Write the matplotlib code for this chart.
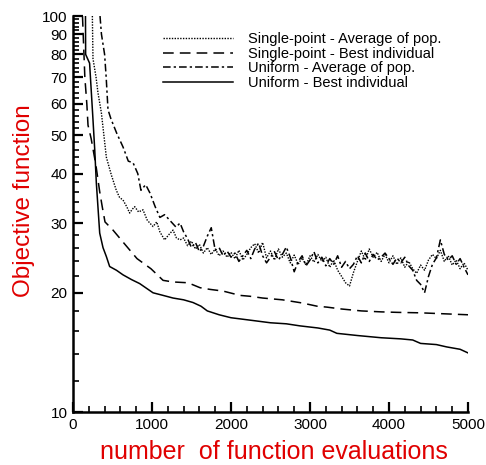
import numpy as np
import matplotlib
matplotlib.use('Agg')
import matplotlib.pyplot as plt
from matplotlib.ticker import NullFormatter

plt.rcParams['font.family'] = ['Liberation Sans', 'DejaVu Sans']

# Uniform - best individual
ub_x = [158, 160, 210, 250, 275, 295, 338, 380, 422, 464, 550, 633, 740, 844, 1013, 1140,
        1266, 1400, 1519, 1620, 1700, 1850, 2000, 2100, 2300, 2500, 2700, 2873, 3100, 3250,
        3340, 3600, 3900, 4150, 4300, 4400, 4600, 4730, 4900, 5000]
ub_y = [100, 80, 76, 56, 46, 38, 28.3, 26.0, 24.7, 23.3, 22.8, 22.2, 21.6, 21.1, 20.0, 19.7,
        19.4, 19.2, 18.9, 18.5, 18.0, 17.6, 17.3, 17.2, 17.0, 16.8, 16.7, 16.5, 16.3, 16.1,
        15.8, 15.6, 15.4, 15.3, 15.2, 14.9, 14.8, 14.6, 14.4, 14.1]

# Single-point - best individual
sb_x = [120, 150, 175, 190, 230, 290, 338, 370, 405, 506, 658, 810, 987, 1140, 1266, 1456,
        1608, 1734, 1900, 2114, 2240, 2400, 2650, 2900, 3089, 3215, 3400, 3650, 3900, 4100,
        4400, 4700, 5000]
sb_y = [100, 70, 60, 53, 49, 42, 36, 33, 30.2, 28.8, 26.5, 24.4, 23.0, 21.5, 21.3, 21.2,
        20.6, 20.4, 20.2, 19.7, 19.6, 19.4, 19.2, 18.85, 18.5, 18.4, 18.2, 18.0, 17.9, 17.85,
        17.8, 17.7, 17.6]

# Single-point - average of population
sa_x = [245, 253, 292, 316, 359, 422, 485, 548, 590, 633, 680, 717, 750, 781, 830, 886, 940,
        1013, 1060, 1100, 1160, 1210, 1266, 1310, 1355,
        1400, 1450, 1500, 1550, 1600, 1650, 1700, 1750, 1800, 1850, 1900, 1950, 2000, 2050,
        2100, 2150, 2200, 2250, 2300, 2350, 2400, 2450, 2500, 2550, 2600, 2650, 2700, 2750,
        2800, 2850, 2900, 2950, 3000, 3050, 3100, 3150, 3200, 3250, 3300, 3350, 3400, 3450,
        3500, 3550, 3600, 3650, 3700, 3750, 3800, 3850, 3900, 3950, 4000, 4050, 4100, 4150,
        4200, 4250, 4300, 4350, 4400, 4450, 4500, 4550, 4600, 4650, 4700, 4750, 4800, 4850,
        4900, 4950, 5000]
sa_y = [100, 78, 70, 64, 57, 44, 39.7, 36.3, 34.8, 34.3, 33.0, 31.8, 32.5, 33.0, 32.0, 32.4,
        30.5, 29.4, 30.2, 28.5, 27.2, 28.0, 28.8, 27.5, 27.2,
        27.5, 26.3, 27.0, 25.8, 26.5, 25.2, 26.0, 25.0, 25.8, 24.8, 25.5, 24.6, 25.3, 24.4,
        25.6, 24.2, 25.0, 26.0, 26.6, 25.2, 26.8, 24.5, 25.5, 24.2, 25.8, 24.6, 25.2, 23.8,
        24.9, 23.6, 24.5, 23.5, 24.8, 23.9, 25.0, 24.0, 24.6, 23.2, 24.2, 22.8, 22.0, 21.2,
        20.8, 22.5, 24.0, 25.5, 24.2, 25.8, 24.6, 25.3, 24.0, 25.0, 23.8, 24.8, 23.6, 24.5,
        23.2, 24.0, 23.0, 22.4, 23.5, 22.8, 24.2, 25.0, 24.4, 25.6, 24.0, 24.8, 23.5, 24.2,
        23.0, 23.8, 22.8]

# Uniform - average of population
ua_x = [342, 360, 400, 420, 443, 480, 553, 633, 700, 760, 820, 860, 920, 975, 1040, 1100,
        1160, 1224, 1304, 1355,
        1400, 1450, 1500, 1550, 1600, 1650, 1700, 1750, 1800, 1850, 1900, 1950, 2000, 2050,
        2100, 2150, 2200, 2250, 2300, 2350, 2400, 2450, 2500, 2550, 2600, 2650, 2700, 2750,
        2800, 2850, 2900, 2950, 3000, 3050, 3100, 3150, 3200, 3250, 3300, 3350, 3400, 3450,
        3500, 3550, 3600, 3650, 3700, 3750, 3800, 3850, 3900, 3950, 4000, 4050, 4100, 4150,
        4200, 4250, 4300, 4350, 4400, 4450, 4500, 4550, 4600, 4650, 4700, 4750, 4800, 4850,
        4900, 4950, 5000]
ua_y = [100, 90, 80, 70, 58, 55, 50.6, 46.7, 43, 42.6, 40, 36.3, 37.5, 35.7, 33, 31,
        31.5, 30.5, 29.3, 30.0,
        28.5, 27.4, 26.0, 26.8, 25.4, 26.2, 27.8, 29.2, 25.6, 26.0, 24.8, 25.5, 24.6, 25.2,
        24.0, 24.8, 25.6, 24.4, 25.8, 26.7, 24.8, 23.8, 24.6, 25.4, 24.2, 25.0, 26.1, 24.6,
        22.6, 24.0, 24.8, 23.4, 24.2, 25.4, 23.8, 24.6, 23.4, 24.4, 23.6, 24.8, 23.2, 24.0,
        23.0, 23.6, 24.8, 23.8, 25.2, 24.0, 25.0, 24.2, 24.6, 25.2, 24.4, 23.6, 24.5, 23.8,
        24.6, 23.4, 22.8, 21.5, 21.0, 20.0, 22.0, 23.6, 24.5, 27.2, 25.0, 24.2, 24.8, 23.6,
        24.4, 23.2, 22.2]

labels = ['Single-point - Average of pop.', 'Single-point - Best individual',
          'Uniform - Average of pop.', 'Uniform - Best individual']

y_major = [10, 20, 30, 40, 50, 60, 70, 80, 90, 100]
y_minor = [v for v in range(12, 100, 2) if v % 10 != 0]
x_major = [0, 1000, 2000, 3000, 4000, 5000]
x_minor = [v for v in range(200, 5000, 200) if v % 1000 != 0]

red = '#e00000'

fig = plt.figure(figsize=(4.86, 4.65), dpi=100)
ax = fig.add_axes([73 / 486, 1 - 412 / 465, 395 / 486, 396 / 465])

ax.plot(sa_x, sa_y, color='k', lw=1.0, ls=(0, (1, 1)), label=labels[0])
ax.plot(sb_x, sb_y, color='k', lw=1.1, ls=(0, (7, 4)), label=labels[1])
ax.plot(ua_x, ua_y, color='k', lw=1.1, ls=(0, (5, 2, 1.5, 2)), label=labels[2])
ax.plot(ub_x, ub_y, color='k', lw=1.1, ls='-', label=labels[3])

ax.set_yscale('log')
ax.set_xlim(0, 5000)
ax.set_ylim(10, 100)

ax.set_yticks(y_major)
ax.set_yticklabels([str(v) for v in y_major])
ax.set_yticks(y_minor, minor=True)
ax.yaxis.set_minor_formatter(NullFormatter())
ax.set_xticks(x_major)
ax.set_xticklabels([str(v) for v in x_major])
ax.set_xticks(x_minor, minor=True)

for s in ['top', 'right']:
    ax.spines[s].set_visible(False)
for s in ['left', 'bottom']:
    ax.spines[s].set_linewidth(1.8)

ax.tick_params(which='major', direction='in', length=7, width=1.6, labelsize=11, pad=4)
ax.tick_params(which='minor', direction='in', length=4, width=1.2)

# axis titles placed in figure pixels
fig.text(274 / 486, 1 - 452 / 465, 'number  of function evaluations', color=red,
         fontsize=18, ha='center', va='center')
fig.text(24 / 486, 1 - 201 / 465, 'Objective function', color=red,
         fontsize=17.5, ha='center', va='center', rotation=90)

ax.legend(loc='upper left', bbox_to_anchor=(163 / 486, 1 - 32 / 465),
          bbox_transform=fig.transFigure, frameon=False, fontsize=10.5,
          handlelength=4.8, handletextpad=1.0, labelspacing=0.05,
          borderpad=0, borderaxespad=0)

plt.savefig('out.png', dpi=100)
